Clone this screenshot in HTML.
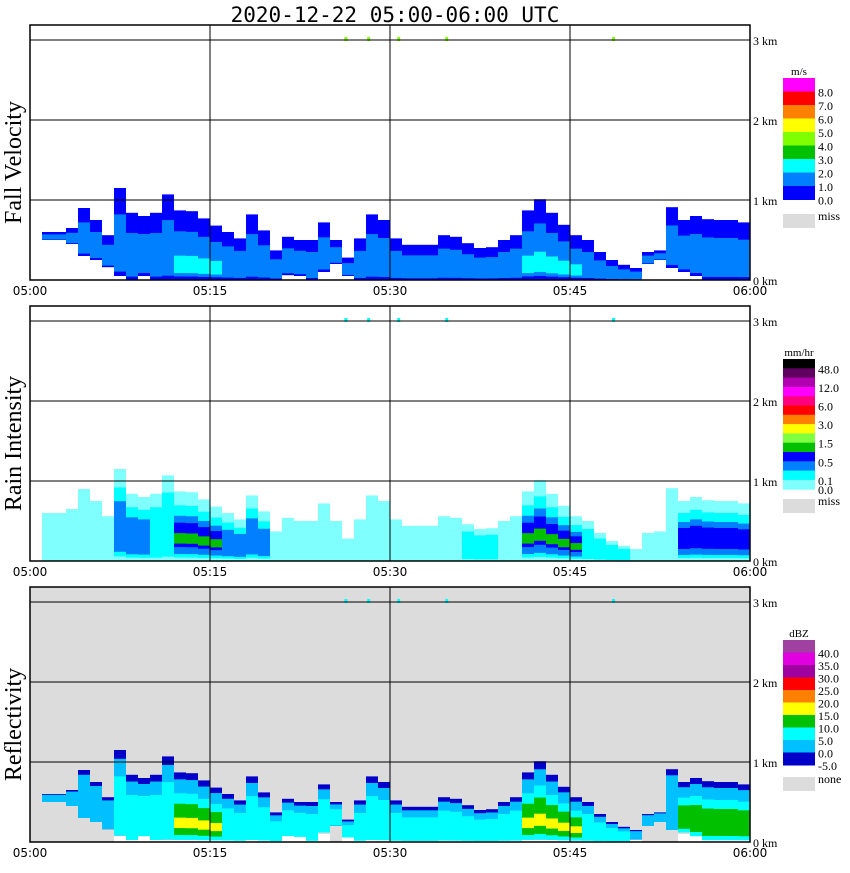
<!DOCTYPE html>
<html><head><meta charset="utf-8"><style>
body{margin:0;background:#fff;width:850px;height:868px;overflow:hidden}
svg text{font-family:"Liberation Serif",serif}
</style></head><body>
<svg id="s" width="850" height="868" xmlns="http://www.w3.org/2000/svg">
<text x="395" y="22" text-anchor="middle" font-size="21" style="font-family:'DejaVu Sans Mono','Liberation Mono',monospace">2020-12-22  05:00-06:00 UTC</text>
</svg>
<script>
// echo top height per minute (km), 05:00..05:59
const echoTop=[0,0.6,0.6,0.65,0.9,0.75,0.56,1.15,0.84,0.8,0.84,1.07,0.87,0.86,0.77,0.68,0.6,0.52,0.82,0.62,0.37,0.54,0.5,0.5,0.72,0.5,0.28,0.52,0.82,0.75,0.52,0.44,0.44,0.44,0.56,0.54,0.46,0.4,0.41,0.5,0.56,0.87,1.01,0.84,0.69,0.56,0.5,0.35,0.25,0.19,0.15,0.35,0.37,0.91,0.75,0.8,0.76,0.75,0.75,0.72];
// echo base height per minute (km)
const echoBase=[0,0.5,0.5,0.45,0.3,0.25,0.16,0.05,0,0.05,0,0,0,0,0,0,0,0,0,0,0,0.06,0.05,0,0.1,0.2,0.05,0,0,0,0,0,0,0,0,0,0,0,0,0,0,0,0,0,0,0,0,0,0,0,0,0.2,0.25,0.15,0.1,0.05,0,0,0,0];
// relative intensity per minute (0..3)
const intensity=[0,0.5,0.5,0.5,0.5,0.5,0.5,2,2,2,1.5,1.5,3,3,3,3,2,2,2,2,1,1,1,1,1,1,1,1,1,1,1,1,1,1,1,1,1.5,1.5,1.5,1,1,3,3,3,3,3,1.5,1.5,1.5,1.5,0.5,0.5,0.5,0.5,2.5,2.5,2.5,2.5,2.5,2.5];
const timeLabels=["05:00","05:15","05:30","05:45","06:00"];
const kmLabels=["0 km","1 km","2 km","3 km"];
const speckMinutes=[26.2,28.1,30.6,34.6,48.5];
const panelTitles=["Fall Velocity","Rain Intensity","Reflectivity"];
const vLegColors=["#ff00ff","#ff0000","#ff8000","#ffff00","#80ff00","#00c000","#00ffff","#0080ff","#0000ff"];
const vLegLabels=["8.0","7.0","6.0","5.0","4.0","3.0","2.0","1.0","0.0"];
const vLegAt=[1,2,3,4,5,6,7,8,9];
const rLegColors=["#000000","#600060","#b000b0","#ff00ff","#ff0080","#ff0000","#ff8000","#ffff00","#80ff40","#00c000","#0000ff","#0080ff","#00ffff","#80ffff"];
const rLegLabels=["48.0","12.0","6.0","3.0","1.5","0.5","0.1","0.0"];
const rLegAt=[1,3,5,7,9,11,13,14];
const zLegColors=["#a040a0","#e000e0","#a000a0","#ff0000","#ff8000","#ffff00","#00c000","#00ffff","#00c0ff","#0000c8"];
const zLegLabels=["40.0","35.0","30.0","25.0","20.0","15.0","10.0","5.0","0.0","-5.0"];
const zLegAt=[1,2,3,4,5,6,7,8,9,10];

const NS="http://www.w3.org/2000/svg",S=document.getElementById('s');
function el(t,a,p){const e=document.createElementNS(NS,t);for(const k in a)e.setAttribute(k,a[k]);(p||S).appendChild(e);return e;}
const X0=30,X1=750,PX=12;
const xOf=m=>X0+m*PX;
const panels=[{top:25,bot:280},{top:306,bot:561},{top:587,bot:842}];
const layerSets=[
 [{c:"#0000ff",f:1,b:0,min:0.1},{c:"#0080ff",f:0.7,b:0.05,min:0.4},{c:"#00ffff",f:0.35,b:0.1,min:3}],
 [{c:"#80ffff",f:1,b:0,min:0.1},{c:"#00ffff",f:0.8,b:0.05,min:1.5},{c:"#0080ff",f:0.65,b:0.1,min:2},{c:"#0000ff",f:0.55,b:0.2,min:2.5},{c:"#00c000",f:0.4,b:0.25,min:3}],
 [{c:"#0000c8",f:1,b:0,min:0.1},{c:"#00c0ff",f:0.9,b:0,min:0.4},{c:"#00ffff",f:0.7,b:0.03,min:1},{c:"#00c000",f:0.55,b:0.1,min:2.5},{c:"#ffff00",f:0.35,b:0.2,min:3}]
];
panels.forEach((p,pi)=>{
  const g=el('g',{});
  
  
  const yOf=h=>p.bot-h*80;
  if(pi===2){const bg=el('rect',{x:X0,y:p.top,width:X1-X0,height:p.bot-p.top,fill:"#dcdcdc"},g);}
  const eg=el('g',{},g);
  
  
  if(pi===2){
    for(let m=0;m<60;m++){
      if(echoTop[m]<=0||echoBase[m]>0.12)continue;
      const r=el('rect',{x:xOf(m),y:yOf(0.1),width:PX,height:8,fill:"#ffffff"},eg);
      
      
    }
  }
  layerSets[pi].forEach(L=>{
    for(let m=0;m<60;m++){
      const t=echoTop[m];if(t<=0||intensity[m]<L.min)continue;
      const b0=pi===1?0:echoBase[m];
      const span=t-b0;
      const top=b0+span*L.f, bot=b0+span*L.b+(pi===2&&L.b===0&&b0<0.12?0.03:0);
      const r=el('rect',{x:xOf(m),y:yOf(top),width:PX,height:Math.max(0,(top-bot)*80),fill:L.c},eg);
      
      
    }
  });
  speckMinutes.forEach(sm=>{const r=el('rect',{x:xOf(sm),y:yOf(3)-3,width:3,height:4,fill:pi===0?"#80ff00":"#00ffff"},g);});
  for(let k=1;k<=3;k++){const l=el('line',{x1:X0,x2:X1,y1:yOf(k),y2:yOf(k),stroke:"#000","stroke-width":1},g);}
  for(let k=1;k<=3;k++){const l=el('line',{x1:xOf(15*k),x2:xOf(15*k),y1:p.top,y2:p.bot,stroke:"#000"},g);}
  const fr=el('rect',{x:X0,y:p.top,width:X1-X0,height:p.bot-p.top,fill:"none",stroke:"#000","stroke-width":1.5},g);
  
  kmLabels.forEach((s,k)=>{const t=el('text',{x:753,y:yOf(k)+5,"font-size":12},g);t.textContent=s;});
  timeLabels.forEach((s,k)=>{const t=el('text',{x:xOf(15*k),y:p.bot+15,"font-size":12,"text-anchor":"middle",style:"font-family:'DejaVu Sans','Liberation Sans',sans-serif"},g);t.textContent=s;});
  const yt=el('text',{x:0,y:0,"font-size":24,"text-anchor":"middle",transform:`translate(21,${(p.top+p.bot)/2+10}) rotate(-90)`},g);
  yt.textContent=panelTitles[pi];
});
function legend(cols,labs,at,y0,h,unit,missY,missTxt,name){
  const g=el('g',{});
  
  
  const u=el('text',{x:799,y:y0-3,"font-size":11,"text-anchor":"middle"},g);u.textContent=unit;
  cols.forEach((c,i)=>{const r=el('rect',{x:783,y:y0+i*h,width:32,height:h+0.5,fill:c},g);});
  labs.forEach((s,i)=>{const t=el('text',{x:818,y:y0+at[i]*h+5,"font-size":12},g);t.textContent=s;});
  const m=el('rect',{x:783,y:missY,width:32,height:14,fill:"#dcdcdc"},g);
  const mt=el('text',{x:818,y:missY+6,"font-size":12},g);mt.textContent=missTxt;
}
legend(vLegColors,vLegLabels,vLegAt,78,13.5,"m/s",214,"miss","velocity-legend");
legend(rLegColors,rLegLabels,rLegAt,359,9.3,"mm/hr",499,"miss","rain-legend");
legend(zLegColors,zLegLabels,zLegAt,640,12.5,"dBZ",777,"none","reflectivity-legend");
</script>
</body></html>
